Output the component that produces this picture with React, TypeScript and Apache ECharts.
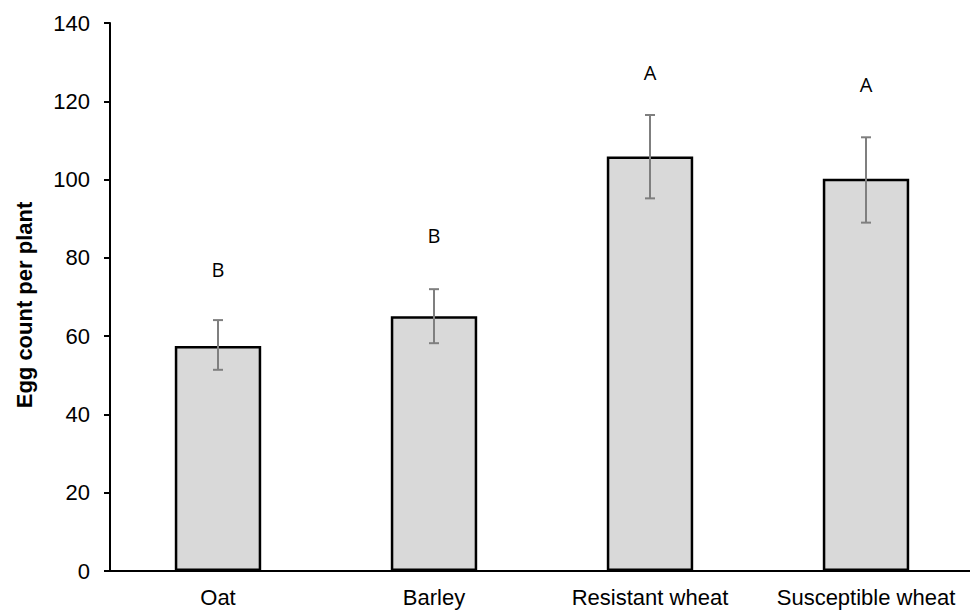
import React, { useEffect, useRef } from "react";
import * as echarts from "echarts";

const categories = ["Oat", "Barley", "Resistant wheat", "Susceptible wheat"];
const means = [57.5, 65.1, 105.9, 100.2];
const errLow = [51.4, 58.2, 95.2, 89.0];
const errHigh = [64.1, 72.0, 116.5, 110.8];
const letters = ["B", "B", "A", "A"];
const letterY = [76.9, 85.8, 127.3, 124.2];
const yTicks = { min: 0, max: 140, interval: 20 };
const yTitle = "Egg count per plant";

export default function App() {
  const ref = useRef<HTMLDivElement>(null);
  useEffect(() => {
    if (!ref.current) return;
    const chart = echarts.init(ref.current, null, { renderer: "svg" });
    const axisFont = "'Liberation Sans', Arial, sans-serif";
    chart.setOption({
      animation: false,
      backgroundColor: "#ffffff",
      grid: { left: 110, top: 23, width: 864, height: 548, containLabel: false, outerBoundsMode: "none" },
      graphic: [
        {
          type: "text",
          x: 24,
          y: 305,
          rotation: Math.PI / 2,
          style: {
            text: yTitle,
            fill: "#000",
            fontSize: 22,
            fontWeight: "bold",
            fontFamily: axisFont,
            align: "center",
            verticalAlign: "middle",
          },
        },
      ],
      xAxis: {
        type: "category",
        data: categories,
        axisLine: { lineStyle: { color: "#000", width: 2 } },
        axisTick: { show: false },
        axisLabel: { color: "#000", fontSize: 22, fontFamily: axisFont, margin: 15, interval: 0 },
        splitLine: { show: false },
      },
      yAxis: {
        type: "value",
        min: yTicks.min,
        max: yTicks.max,
        interval: yTicks.interval,
        axisLine: { show: true, lineStyle: { color: "#000", width: 2 } },
        axisTick: { show: true, length: 6, lineStyle: { color: "#000", width: 2 } },
        axisLabel: { color: "#000", fontSize: 22, fontFamily: axisFont, margin: 20 },
        splitLine: { show: false },
      },
      series: [
        {
          type: "bar",
          data: means,
          barWidth: "40%",
          itemStyle: { color: "#d9d9d9", borderColor: "#000", borderWidth: 2.5 },
        },
        {
          type: "custom",
          data: categories.map((_, i) => [i, errLow[i], errHigh[i]]),
          renderItem: (params: any, api: any) => {
            const i = api.value(0);
            const lo = api.coord([i, api.value(1)]);
            const hi = api.coord([i, api.value(2)]);
            const hw = 5;
            const style = { stroke: "#7f7f7f", lineWidth: 2 };
            return {
              type: "group",
              children: [
                { type: "line", shape: { x1: lo[0], y1: lo[1], x2: hi[0], y2: hi[1] }, style },
                { type: "line", shape: { x1: hi[0] - hw, y1: hi[1], x2: hi[0] + hw, y2: hi[1] }, style },
                { type: "line", shape: { x1: lo[0] - hw, y1: lo[1], x2: lo[0] + hw, y2: lo[1] }, style },
              ],
            };
          },
          z: 5,
        },
        {
          type: "custom",
          data: categories.map((_, i) => [i, letterY[i]]),
          renderItem: (params: any, api: any) => {
            const i = api.value(0);
            const p = api.coord([i, api.value(1)]);
            return {
              type: "text",
              x: p[0],
              y: p[1],
              style: {
                text: letters[params.dataIndex],
                fill: "#000",
                fontSize: 20,
                fontFamily: "'Open Sans', 'Noto Sans', sans-serif",
                align: "center",
                verticalAlign: "middle",
              },
            };
          },
          z: 5,
        },
      ],
    });
    return () => chart.dispose();
  }, []);
  return <div ref={ref} style={{ width: 970, height: 610, position: "absolute", left: 0, top: 0 }} />;
}
